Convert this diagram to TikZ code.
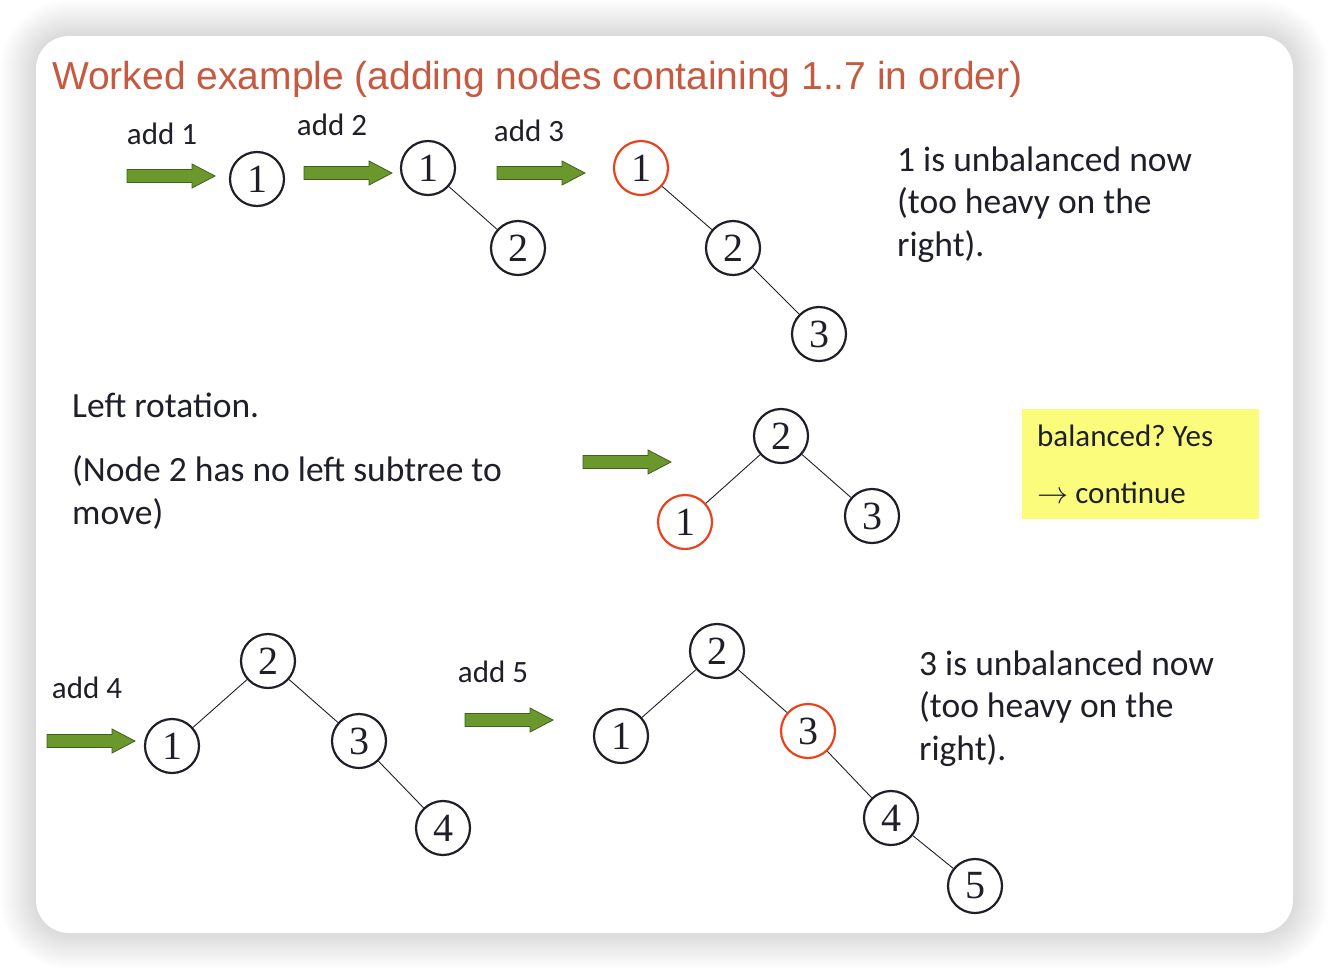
\documentclass[tikz,border=0pt]{standalone}
\usepackage{fontspec}
\setmainfont{Carlito}
\newfontfamily\titlefont{Liberation Sans}
\newfontfamily\numfont{Liberation Serif}
\frenchspacing
\definecolor{titlec}{HTML}{C55A40}
\definecolor{redc}{HTML}{E8431E}
\definecolor{greenf}{HTML}{6B982D}
\definecolor{greend}{HTML}{415F1A}
\definecolor{yel}{HTML}{FCFC7C}
\definecolor{txt}{HTML}{1F1F2A}
\tikzset{
  tnode/.style={circle,draw=txt,line width=2.2pt,minimum size=54pt,inner sep=0pt,text=txt,font=\numfont\fontsize{40}{40}\selectfont},
  rnode/.style={tnode,draw=redc},
  edge/.style={draw=txt,line width=0.9pt},
  body/.style={inner sep=0pt,anchor=base west,align=left,text=txt,font=\fontsize{35.5}{42.5}\selectfont},
  addlbl/.style={inner sep=0pt,anchor=base,text=txt,font=\fontsize{31}{36}\selectfont},
  garrow/.style={fill=greenf,draw=greend,line width=0.8pt}
}
\newcommand\garrow[2]{\filldraw[garrow] (#1,#2) ++(0,-6.5) -- ++(65,0) -- ++(0,-5.5) -- ++(23,12) -- ++(-23,12) -- ++(0,-5.5) -- ++(-65,0) -- cycle;}
\begin{document}
\begin{tikzpicture}[x=1pt,y=-1pt]
\useasboundingbox (0,0) rectangle (1330,970);
\fill[white] (0,0) rectangle (1330,970);
% shadow
\foreach \i in {1,...,36}{
  \fill[black,opacity=0.0045,rounded corners=33+\i] (36-\i,36-\i) rectangle (1293+\i,933+\i);
}
\fill[white,rounded corners=33] (36,36) rectangle (1293,933);
% title
\node[inner sep=0pt,anchor=base west,text=titlec,font=\titlefont\fontsize{39}{44}\selectfont] (title) at (52,89) {Worked example (adding nodes containing 1..7 in order)};
% row 1
\node[addlbl] (add1) at (162,144) {add 1};
\garrow{127}{176}
\node[tnode] (a1) at (257,179) {1};
\node[addlbl] (add2) at (332,135) {add 2};
\garrow{304}{173}
\node[tnode] (b1) at (428,168) {1};
\node[tnode] (b2) at (518,248) {2};
\draw[edge] (b1) -- (b2);
\node[addlbl] (add3) at (529,141) {add 3};
\garrow{497}{173}
\node[rnode] (c1) at (641,168) {1};
\node[tnode] (c2) at (733,248) {2};
\node[tnode] (c3) at (819,334) {3};
\draw[edge] (c1) -- (c2);
\draw[edge] (c2) -- (c3);
\node[body] (t1) at (897,256) {1 is unbalanced now\\(too heavy on the\\right).};
% row 2
\node[body] (lr) at (72,417) {Left rotation.};
\node[body] (nd) at (72,524) {(Node 2 has no left subtree to\\move)};
\garrow{583}{462}
\node[tnode] (d2) at (781,436) {2};
\node[rnode] (d1) at (685,522) {1};
\node[tnode] (d3) at (872,516) {3};
\draw[edge] (d2) -- (d1);
\draw[edge] (d2) -- (d3);
\node[fill=yel,minimum width=237pt,minimum height=110pt,anchor=north west,inner sep=0pt] (box) at (1022,409) {};
\node[inner sep=0pt,anchor=base west,text=txt,font=\fontsize{31}{57}\selectfont,align=left] (boxt) at (1037,503) {balanced? Yes\\\scalebox{1.25}{$\rightarrow$} continue};
% row 3
\node[addlbl] (add4) at (87,698) {add 4};
\garrow{47}{741}
\node[tnode] (e2) at (268,661) {2};
\node[tnode] (e1) at (172,746) {1};
\node[tnode] (e3) at (359,741) {3};
\node[tnode] (e4) at (443,828) {4};
\draw[edge] (e2) -- (e1);
\draw[edge] (e2) -- (e3);
\draw[edge] (e3) -- (e4);
\node[addlbl] (add5) at (493,682) {add 5};
\garrow{465}{720}
\node[tnode] (f2) at (717,651) {2};
\node[tnode] (f1) at (621,736) {1};
\node[rnode] (f3) at (808,731) {3};
\node[tnode] (f4) at (891,818) {4};
\node[tnode] (f5) at (975,886) {5};
\draw[edge] (f2) -- (f1);
\draw[edge] (f2) -- (f3);
\draw[edge] (f3) -- (f4);
\draw[edge] (f4) -- (f5);
\node[body] (t2) at (919,760) {3 is unbalanced now\\(too heavy on the\\right).};
\end{tikzpicture}
\end{document}
